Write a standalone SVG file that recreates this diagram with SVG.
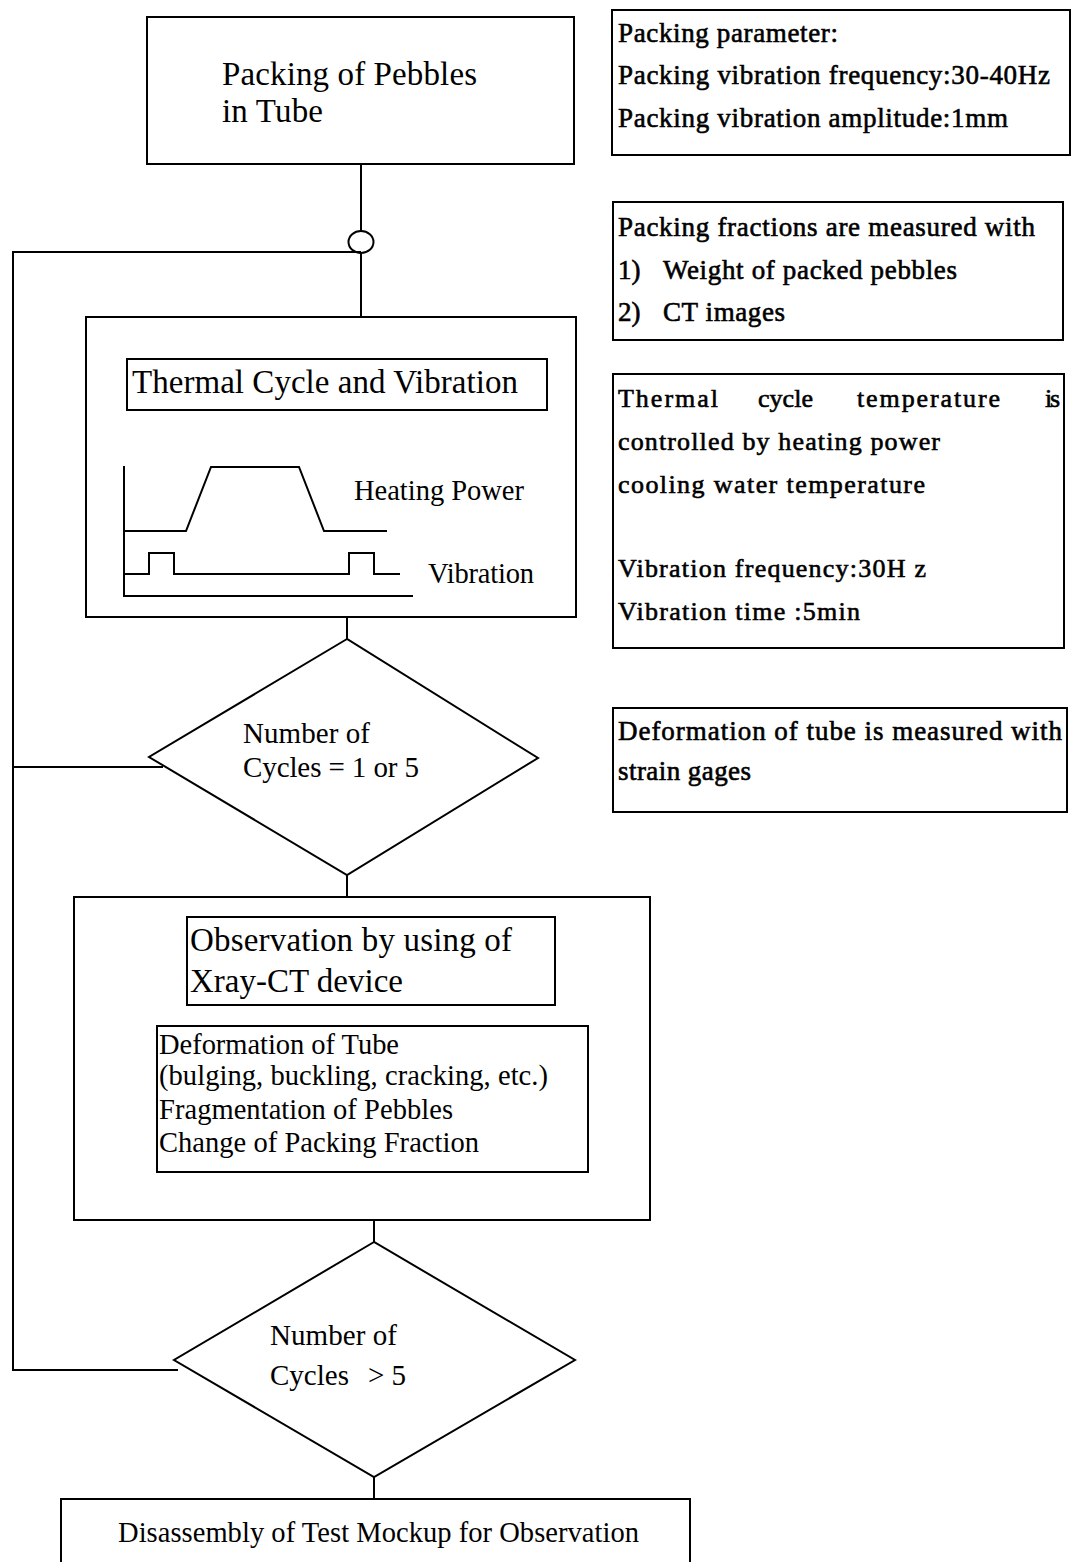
<svg xmlns="http://www.w3.org/2000/svg" width="1071" height="1562" viewBox="0 0 1071 1562">
<style>
  .bg { fill: #ffffff; }
  .box { fill: none; stroke: #000; stroke-width: 2; }
  .ln { fill: none; stroke: #000; stroke-width: 2; }
  .t { font-family: "Liberation Serif", "Times New Roman", serif; fill: #000; }
  .big { font-size: 33px; }
  .mid { font-size: 28.5px; }
  .nt { font-family: "Liberation Serif", "Times New Roman", serif; fill: #000; font-size: 27px; stroke: #000; stroke-width: 0.6; }
  .ct { font-family: "Liberation Serif", "Times New Roman", serif; fill: #000; font-size: 26px; stroke: #000; stroke-width: 0.6; }
</style>
<rect class="bg" x="0" y="0" width="1071" height="1562"/>

<g id="connectors">
  <line class="ln" x1="361" y1="164" x2="361" y2="231"/>
  <ellipse class="ln" cx="361" cy="242" rx="12.5" ry="11"/>
  <line class="ln" x1="361" y1="253" x2="361" y2="317"/>
  <polyline class="ln" points="361,252 13,252 13,1370 178,1370"/>
  <line class="ln" x1="13" y1="767" x2="163" y2="767"/>
  <line class="ln" x1="347" y1="617" x2="347" y2="639"/>
  <line class="ln" x1="347" y1="875" x2="347" y2="897"/>
  <line class="ln" x1="374" y1="1220" x2="374" y2="1242"/>
  <line class="ln" x1="374" y1="1477" x2="374" y2="1499"/>
</g>

<g id="node-packing">
  <rect class="box" x="147" y="17" width="427" height="147"/>
  <text class="t big" x="222" y="85" textLength="255">Packing of Pebbles</text>
  <text class="t big" x="222" y="122" textLength="101">in Tube</text>
</g>

<g id="node-thermal">
  <rect class="box" x="86" y="317" width="490" height="300"/>
  <rect class="box" x="127" y="359" width="420" height="51"/>
  <text class="t big" x="132" y="393" textLength="386">Thermal Cycle and Vibration</text>
  <polyline class="ln" points="124,466 124,596 413,596"/>
  <polyline class="ln" points="124,531 186,531 211,467 299,467 324,531 387,531"/>
  <polyline class="ln" points="124,574 149,574 149,553 174,553 174,574 349,574 349,553 374,553 374,574 400,574"/>
  <text class="t mid" x="354" y="500" textLength="170">Heating Power</text>
  <text class="t mid" x="428" y="583" textLength="106">Vibration</text>
</g>

<g id="node-decision1">
  <polygon class="box" points="347,639 149,757 347,875 538,758"/>
  <text class="t" font-size="29" x="243" y="743" textLength="127">Number of</text>
  <text class="t" font-size="29" x="243" y="777" textLength="176">Cycles = 1 or 5</text>
</g>

<g id="node-observation">
  <rect class="box" x="74" y="897" width="576" height="323"/>
  <rect class="box" x="187" y="917" width="368" height="88"/>
  <text class="t big" x="190" y="951" textLength="322">Observation by using of</text>
  <text class="t big" x="190" y="992" textLength="213">Xray-CT device</text>
  <rect class="box" x="157" y="1026" width="431" height="146"/>
  <text class="t mid" x="159" y="1054" textLength="240">Deformation of Tube</text>
  <text class="t mid" x="159" y="1085" textLength="389">(bulging, buckling, cracking, etc.)</text>
  <text class="t mid" x="159" y="1119" textLength="294">Fragmentation of Pebbles</text>
  <text class="t mid" x="159" y="1152" textLength="320">Change of Packing Fraction</text>
</g>

<g id="node-decision2">
  <polygon class="box" points="374,1242 174,1360 374,1477 575,1360"/>
  <text class="t" font-size="29" x="270" y="1345" textLength="127">Number of</text>
  <text class="t" font-size="29" x="270" y="1385">Cycles</text>
  <text class="t" font-size="29" x="368" y="1385">&gt; 5</text>
</g>

<g id="node-disassembly">
  <rect class="box" x="61" y="1499" width="629" height="80"/>
  <text class="t mid" x="118" y="1542" textLength="521">Disassembly of Test Mockup for Observation</text>
</g>

<g id="note-packing-parameter">
  <rect class="box" x="612" y="10" width="458" height="145"/>
  <text class="nt" x="618" y="42" textLength="220">Packing parameter:</text>
  <text class="nt" x="618" y="84" textLength="432">Packing vibration frequency:30-40Hz</text>
  <text class="nt" x="618" y="127" textLength="390">Packing vibration amplitude:1mm</text>
</g>

<g id="note-packing-fraction">
  <rect class="box" x="613" y="202" width="450" height="138"/>
  <text class="nt" x="618" y="236" textLength="417">Packing fractions are measured with</text>
  <text class="nt" x="618" y="279">1)</text>
  <text class="nt" x="663" y="279" textLength="294">Weight of packed pebbles</text>
  <text class="nt" x="618" y="321">2)</text>
  <text class="nt" x="663" y="321" textLength="122">CT images</text>
</g>

<g id="note-thermal">
  <rect class="box" x="613" y="374" width="451" height="274"/>
  <text class="ct" x="618" y="407" textLength="100">Thermal</text>
  <text class="ct" x="758" y="407" textLength="55">cycle</text>
  <text class="ct" x="857" y="407" textLength="143">temperature</text>
  <text class="ct" x="1045" y="407" textLength="15">is</text>
  <text class="ct" x="618" y="450" textLength="322">controlled by heating power</text>
  <text class="ct" x="618" y="493" textLength="307">cooling water temperature</text>
  <text class="ct" x="618" y="577" textLength="308">Vibration frequency:30H z</text>
  <text class="ct" x="618" y="620" textLength="242">Vibration time :5min</text>
</g>

<g id="note-deformation">
  <rect class="box" x="613" y="708" width="454" height="104"/>
  <text class="nt" x="618" y="740" textLength="444">Deformation of tube is measured with</text>
  <text class="nt" x="618" y="780" textLength="133">strain gages</text>
</g>
</svg>
